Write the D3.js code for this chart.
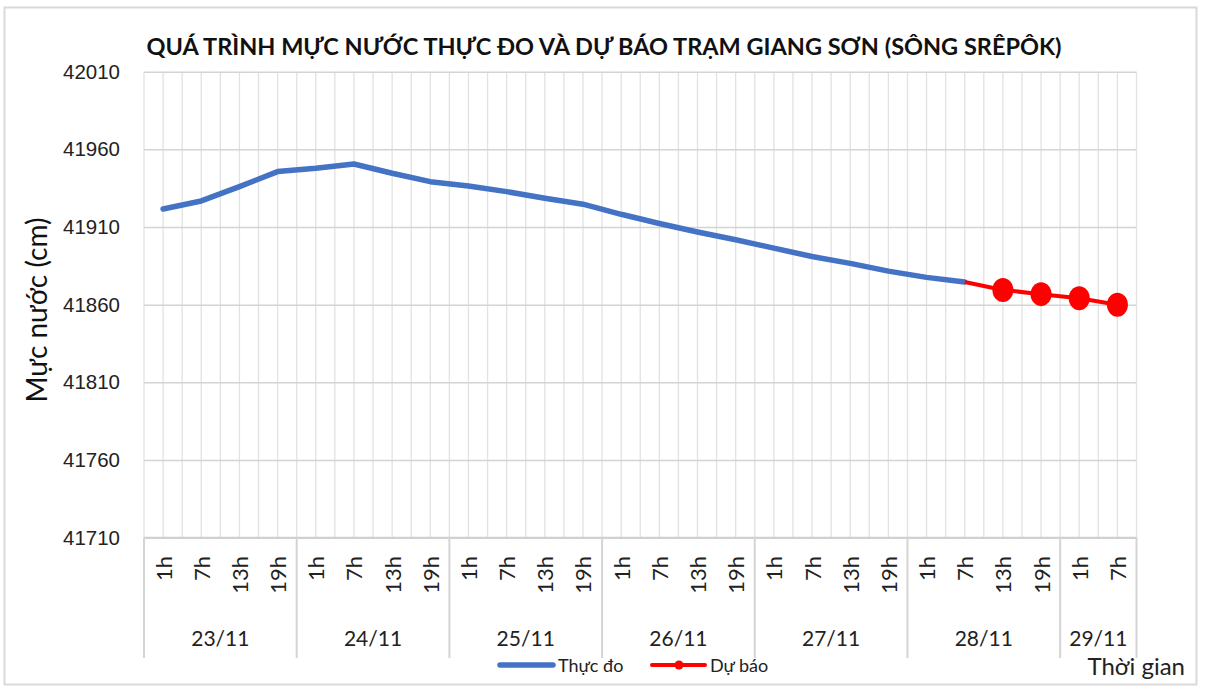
<!DOCTYPE html>
<html>
<head>
<meta charset="utf-8">
<title>Giang Sơn</title>
<script src="https://cdn.jsdelivr.net/npm/d3@7"></script>
<style>
  body { margin: 0; background: #fff; }
  svg { display: block; font-family: Lato, "Open Sans", sans-serif; }
</style>
</head>
<body>
<div id="chart"></div>
<script>
// data
var days = ["23/11", "24/11", "25/11", "26/11", "27/11", "28/11", "29/11"];
var hoursPerDay = [
  ["1h", "7h", "13h", "19h"], ["1h", "7h", "13h", "19h"], ["1h", "7h", "13h", "19h"],
  ["1h", "7h", "13h", "19h"], ["1h", "7h", "13h", "19h"], ["1h", "7h", "13h", "19h"],
  ["1h", "7h"]
];
var observed = [41921.6, 41926.8, 41936, 41945.7, 41947.8, 41950.6, 41944.6, 41939.2,
  41936.4, 41932.8, 41928.5, 41924.7, 41918.2, 41912.3, 41906.8, 41901.8,
  41896.4, 41891, 41886.6, 41881.6, 41877.6, 41874.6];
var forecastStart = 21;
var forecast = [41874.6, 41869.5, 41866.8, 41864.2, 41860];
var yTicks = [41710, 41760, 41810, 41860, 41910, 41960, 42010];

var W = 1207, H = 689;
var pLeft = 144, pRight = 1136.5, pTop = 71.7, pBottom = 537.7;

var cats = [];
hoursPerDay.forEach(function(hs, d) {
  hs.forEach(function(h) { cats.push({ day: d, hour: h }); });
});

var svg = d3.select("#chart").append("svg")
  .attr("width", W).attr("height", H);

// chart frame
svg.append("rect")
  .attr("x", 4.5).attr("y", 7.5).attr("width", 1192).attr("height", 677)
  .attr("fill", "#fff").attr("stroke", "#d9d9d9").attr("stroke-width", 2);

var x = d3.scaleBand().domain(d3.range(cats.length)).range([pLeft, pRight]).padding(0);
var bw = x.bandwidth();
var y = d3.scaleLinear().domain([41710, 42010]).range([pBottom, pTop]);
var cx = function(i) { return x(i) + bw / 2; };

// vertical grid: every band edge and band centre
var vlines = [];
cats.forEach(function(c, i) { vlines.push(x(i)); vlines.push(cx(i)); });
vlines.push(pRight);
svg.append("g").selectAll("line").data(vlines).join("line")
  .attr("x1", d => d).attr("x2", d => d)
  .attr("y1", pTop).attr("y2", pBottom)
  .attr("stroke", "#e2e2e2").attr("stroke-width", 1.3);

// horizontal grid + y labels
var yAxis = svg.append("g")
  .attr("transform", "translate(" + pLeft + ",0)")
  .call(d3.axisLeft(y).tickValues(yTicks).tickSize(-(pRight - pLeft)).tickPadding(24).tickFormat(d3.format("d")));
yAxis.select(".domain").remove();
yAxis.selectAll(".tick line").attr("stroke", "#d4d4d4").attr("stroke-width", 1.5);
yAxis.selectAll(".tick text").attr("fill", "#222").style("font-size", "20.5px");

// bottom axis line
svg.append("line")
  .attr("x1", pLeft).attr("x2", pRight).attr("y1", pBottom).attr("y2", pBottom)
  .attr("stroke", "#d0d0d0").attr("stroke-width", 2);

// hour labels
svg.append("g").selectAll("text").data(cats).join("text")
  .attr("transform", (d, i) => "translate(" + cx(i) + ",556) rotate(-90)")
  .attr("text-anchor", "end")
  .attr("dominant-baseline", "central")
  .attr("fill", "#222")
  .style("font-size", "22px")
  .text(d => d.hour);

// day groups
var dayStart = [], acc = 0;
hoursPerDay.forEach(function(hs) { dayStart.push(acc); acc += hs.length; });
var seps = dayStart.map(s => x(s)).concat([pRight]);
svg.append("g").selectAll("line").data(seps).join("line")
  .attr("x1", d => d).attr("x2", d => d)
  .attr("y1", pBottom).attr("y2", 658)
  .attr("stroke", "#d4d4d4").attr("stroke-width", 2);
svg.append("g").selectAll("text").data(days).join("text")
  .attr("x", (d, i) => (x(dayStart[i]) + x(dayStart[i] + hoursPerDay[i].length - 1) + bw) / 2)
  .attr("y", 646)
  .attr("text-anchor", "middle")
  .attr("fill", "#222")
  .style("font-size", "21px")
  .text(d => d);

// lines
var line = d3.line().x(d => cx(d.i)).y(d => y(d.v));
var obsPts = observed.map((v, i) => ({ i: i, v: v }));
var fcPts = forecast.map((v, k) => ({ i: forecastStart + k, v: v }));

svg.append("path").datum(obsPts)
  .attr("d", line).attr("fill", "none")
  .attr("stroke", "#4472c4").attr("stroke-width", 5.5)
  .attr("stroke-linejoin", "round").attr("stroke-linecap", "round");
svg.append("path").datum(fcPts)
  .attr("d", line).attr("fill", "none")
  .attr("stroke", "#ff0000").attr("stroke-width", 4)
  .attr("stroke-linejoin", "round");
svg.append("g").selectAll("ellipse").data(fcPts.slice(1)).join("ellipse")
  .attr("cx", d => cx(d.i)).attr("cy", d => y(d.v))
  .attr("rx", 10.5).attr("ry", 12)
  .attr("fill", "#ff0000");

// title
svg.append("text")
  .attr("x", 604).attr("y", 55)
  .attr("text-anchor", "middle")
  .attr("fill", "#111")
  .style("font-size", "23.5px").style("font-weight", "bold")
  .text("QUÁ TRÌNH MỰC NƯỚC THỰC ĐO VÀ DỰ BÁO TRẠM GIANG SƠN (SÔNG SRÊPÔK)");

// y title
svg.append("text")
  .attr("transform", "translate(36,310) rotate(-90)")
  .attr("text-anchor", "middle")
  .attr("dominant-baseline", "central")
  .attr("fill", "#111")
  .style("font-size", "28px")
  .text("Mực nước (cm)");

// x title
svg.append("text")
  .attr("x", 1185).attr("y", 675)
  .attr("text-anchor", "end")
  .attr("fill", "#222")
  .style("font-size", "24px")
  .text("Thời gian");

// legend
var lg = svg.append("g").attr("transform", "translate(0,665)");
lg.append("line").attr("x1", 500).attr("x2", 553).attr("y1", 0).attr("y2", 0)
  .attr("stroke", "#4472c4").attr("stroke-width", 5.5).attr("stroke-linecap", "round");
lg.append("text").attr("x", 558).attr("y", 0).attr("dominant-baseline", "central")
  .attr("fill", "#222").style("font-size", "18px").text("Thực đo");
lg.append("line").attr("x1", 652).attr("x2", 705).attr("y1", 0).attr("y2", 0)
  .attr("stroke", "#ff0000").attr("stroke-width", 4).attr("stroke-linecap", "round");
lg.append("circle").attr("cx", 679).attr("cy", 0).attr("r", 4.5).attr("fill", "#ff0000");
lg.append("text").attr("x", 710).attr("y", 0).attr("dominant-baseline", "central")
  .attr("fill", "#222").style("font-size", "18px").text("Dự báo");
</script>
</body>
</html>
